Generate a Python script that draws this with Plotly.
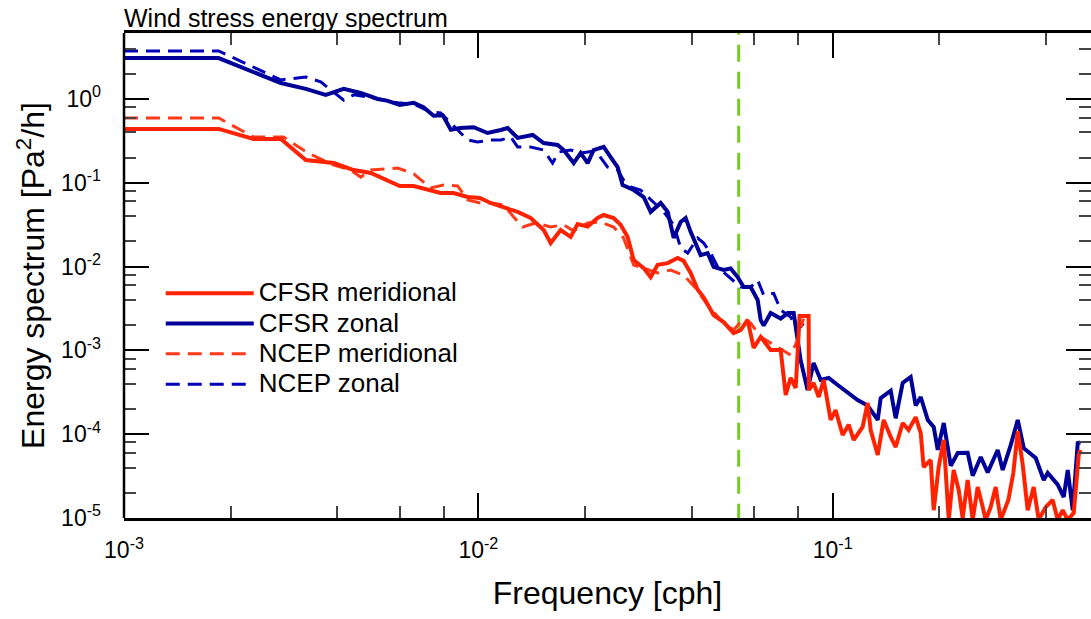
import plotly.graph_objects as go

# ---------------- data (frequency in cph, spectrum in Pa^2/h) ----------------
cfsr_zon_f = [0.001, 0.00185, 0.00277, 0.00326, 0.00371, 0.00417, 0.00466, 0.0052, 0.00555, 0.0060,
              0.00657, 0.0070, 0.00748, 0.00794, 0.00836, 0.0089, 0.0097, 0.01062, 0.01157, 0.0121,
              0.01291, 0.01423, 0.01529, 0.01674, 0.01741, 0.01858, 0.01944, 0.02035, 0.02115, 0.02258,
              0.02362, 0.02472, 0.02554, 0.02744, 0.02928, 0.03064, 0.0327, 0.03423, 0.03559, 0.03724,
              0.03847, 0.03973, 0.0424, 0.04437, 0.04613, 0.04922, 0.05152, 0.05392, 0.05608, 0.05868,
              0.06142, 0.06263, 0.06386, 0.06683, 0.07133, 0.07464, 0.07761, 0.0796, 0.08117, 0.08494,
              0.08834, 0.0925, 0.09743, 0.1033, 0.1102, 0.1176, 0.1255, 0.134, 0.1366, 0.1458,
              0.1506, 0.1576, 0.166, 0.1715, 0.1772, 0.1855, 0.1928, 0.1979, 0.2058, 0.2154,
              0.2254, 0.2404, 0.2484, 0.2617, 0.2738, 0.2922, 0.3019, 0.318, 0.3329, 0.3461,
              0.3741, 0.3941, 0.4045, 0.4316, 0.4488, 0.4606, 0.4758, 0.4915, 0.5]
cfsr_zon_s = [3.08, 3.08, 1.55, 1.32, 1.12, 1.32, 1.18, 1.0, 0.95, 0.85,
              0.90, 0.80, 0.63, 0.64, 0.43, 0.45, 0.46, 0.393, 0.427, 0.451,
              0.343, 0.372, 0.298, 0.283, 0.246, 0.172, 0.227, 0.172, 0.246, 0.268,
              0.203, 0.154, 0.094, 0.082, 0.0677, 0.045, 0.0574, 0.045, 0.022, 0.034,
              0.038, 0.026, 0.0137, 0.0145, 0.0099, 0.0091, 0.0095, 0.0075, 0.0057, 0.0057,
              0.0040, 0.0023, 0.00198, 0.00279, 0.0024, 0.00279, 0.00279, 0.00133, 0.00077, 0.000337,
              0.000708, 0.000444, 0.00047, 0.000387, 0.00032, 0.000256, 0.00022, 0.000148, 0.00027, 0.00033,
              0.000155, 0.000409, 0.000482, 0.00022, 0.000278, 0.000148, 0.000122, 0.000065, 0.000136, 0.000042,
              0.0000597, 0.00006, 0.000032, 0.0000535, 0.000035, 0.0000648, 0.0000374, 0.000074, 0.000148, 0.000068,
              0.000052, 0.0000284, 0.0000344, 0.000025, 0.0000178, 0.0000374, 0.0000124, 0.0000785, 0.00008]

cfsr_mer_f = [0.001, 0.00185, 0.00232, 0.00277, 0.00326, 0.00391, 0.00445, 0.00497, 0.0060, 0.00657,
              0.00783, 0.00851, 0.00933, 0.0101, 0.01083, 0.01179, 0.01291, 0.01405, 0.01529, 0.016,
              0.01707, 0.01822, 0.01906, 0.02035, 0.02171, 0.02258, 0.02409, 0.02521, 0.02638, 0.02744,
              0.02928, 0.03064, 0.03207, 0.03423, 0.0365, 0.03797, 0.03973, 0.0416, 0.04324, 0.04613,
              0.04922, 0.05254, 0.05498, 0.05755, 0.05984, 0.06263, 0.06683, 0.07133, 0.07368, 0.0761,
              0.07864, 0.08066, 0.08554, 0.0857, 0.08834, 0.09131, 0.09432, 0.0987, 0.1019, 0.1067,
              0.111, 0.1146, 0.1215, 0.1255, 0.128, 0.134, 0.1393, 0.1458, 0.1506, 0.1576,
              0.1638, 0.1715, 0.1772, 0.1806, 0.1891, 0.1928, 0.1991, 0.2058, 0.2126, 0.2195,
              0.2268, 0.2327, 0.2404, 0.2484, 0.2566, 0.2651, 0.2703, 0.2792, 0.2884, 0.298,
              0.3131, 0.3234, 0.3329, 0.3439, 0.3551, 0.3692, 0.3815, 0.3991, 0.4177, 0.4316,
              0.4457, 0.4606, 0.4789, 0.4947, 0.5]
cfsr_mer_s = [0.44, 0.44, 0.333, 0.333, 0.187, 0.172, 0.142, 0.131, 0.0916, 0.0916,
              0.0755, 0.0755, 0.0677, 0.066, 0.0574, 0.0514, 0.0449, 0.038, 0.0273, 0.0191,
              0.0273, 0.0226, 0.0322, 0.030, 0.038, 0.0413, 0.038, 0.0316, 0.0226, 0.012,
              0.0096, 0.0075, 0.0105, 0.0110, 0.0127, 0.0117, 0.0084, 0.0053, 0.0043, 0.00264,
              0.00218, 0.00161, 0.00175, 0.00231, 0.00107, 0.00145, 0.00101, 0.00101, 0.000294, 0.00047,
              0.000356, 0.00258, 0.00258, 0.000337, 0.000409, 0.000278, 0.000444, 0.000148, 0.000194, 0.0000977,
              0.00013, 0.0000853, 0.000122, 0.000236, 0.000112, 0.0000565, 0.000148, 0.0000927, 0.0000703, 0.000136,
              0.000112, 0.00016, 0.000103, 0.0000406, 0.0000492, 0.0000124, 0.0000406, 0.0000853, 0.0000095, 0.0000374,
              0.0000216, 0.00001, 0.0000284, 0.0000095, 0.0000234, 0.0000135, 0.0000095, 0.0000135, 0.0000234, 0.0000095,
              0.0000164, 0.0000344, 0.000108, 0.000043, 0.0000124, 0.0000234, 0.0000095, 0.0000135, 0.0000164, 0.0000095,
              0.0000124, 0.0000095, 0.0000115, 0.0000565, 0.0000648]

ncep_zon_f = [0.001, 0.00185, 0.00277, 0.00326, 0.00359, 0.00391, 0.00417, 0.00445, 0.00506, 0.00592,
              0.00657, 0.00733, 0.00783, 0.00836, 0.00933, 0.00995, 0.01083, 0.01157, 0.01234, 0.01291,
              0.01405, 0.01529, 0.0162, 0.01685, 0.01822, 0.01944, 0.02144, 0.02317, 0.02472, 0.0257,
              0.02691, 0.02871, 0.03064, 0.03334, 0.03559, 0.03724, 0.03897, 0.0416, 0.04324, 0.04527,
              0.04737, 0.05052, 0.05498, 0.05868, 0.06142, 0.06386, 0.06817, 0.07133, 0.0761, 0.0796,
              0.08276]
ncep_zon_s = [3.74, 3.74, 1.69, 1.83, 1.60, 1.21, 0.97, 1.12, 1.03, 0.90,
              0.87, 0.70, 0.68, 0.517, 0.324, 0.307, 0.324, 0.324, 0.352, 0.268,
              0.268, 0.246, 0.172, 0.233, 0.246, 0.227, 0.24, 0.154, 0.142, 0.108,
              0.0891, 0.082, 0.0624, 0.045, 0.0316, 0.0167, 0.0145, 0.0219, 0.0191, 0.0145,
              0.0099, 0.00773, 0.0057, 0.0057, 0.0069, 0.00458, 0.0048, 0.00303, 0.0025, 0.00175,
              0.0021]

ncep_mer_f = [0.001, 0.00185, 0.00232, 0.00282, 0.0033, 0.00391, 0.00436, 0.00466, 0.00497, 0.00592,
              0.00657, 0.00733, 0.00798, 0.00874, 0.00933, 0.01015, 0.01083, 0.01179, 0.01258, 0.01334,
              0.01451, 0.016, 0.01741, 0.01858, 0.02035, 0.02214, 0.02409, 0.0257, 0.02744, 0.03004,
              0.03207, 0.03489, 0.03797, 0.04104, 0.04437, 0.04829, 0.05254, 0.05608, 0.05868, 0.06263,
              0.06817, 0.0761, 0.0796, 0.08276]
ncep_mer_s = [0.593, 0.593, 0.352, 0.352, 0.227, 0.163, 0.142, 0.117, 0.142, 0.150,
              0.128, 0.0867, 0.0941, 0.0916, 0.0624, 0.0574, 0.0574, 0.0543, 0.0391, 0.0297,
              0.0331, 0.0297, 0.0316, 0.0266, 0.0331, 0.034, 0.0297, 0.0219, 0.01045, 0.0091,
              0.0084, 0.0091, 0.0079, 0.00555, 0.00348, 0.00231, 0.00175, 0.0024, 0.00212, 0.00145,
              0.00116, 0.00088, 0.00133, 0.0024]

series_names = ["CFSR meridional", "CFSR zonal", "NCEP meridional", "NCEP zonal"]

marker_freq = 0.0543          # vertical reference frequency (cph)
marker_span = [1e-6, 100.0]   # vertical extent (clipped by the axis range)

x_major = [1e-3, 1e-2, 1e-1]
x_major_text = ["10<sup>-3</sup>", "10<sup>-2</sup>", "10<sup>-1</sup>"]
x_minor = [2e-3, 4e-3, 6e-3, 8e-3, 2e-2, 4e-2, 6e-2, 8e-2, 2e-1, 4e-1]
y_major = [1e-5, 1e-4, 1e-3, 1e-2, 1e-1, 1e0]
y_major_text = ["10<sup>-5</sup>", "10<sup>-4</sup>", "10<sup>-3</sup>",
                "10<sup>-2</sup>", "10<sup>-1</sup>", "10<sup>0</sup>"]
y_minor = [m * d for d in [1e-5, 1e-4, 1e-3, 1e-2, 1e-1, 1e0] for m in (2, 4, 6, 8)]

# ---------------- figure ----------------
RED = "#FF2200"
RED_D = "#FF3A1A"
BLUE = "#000099"
BLUE_D = "#0000BB"
FONT = "Liberation Sans, Arial, Helvetica, sans-serif"


def legend_label(text):
    # larger glyphs than the legend's base font, keeping the tight row spacing
    return '<span style="font-size:26px">' + text + "</span>"


fig = go.Figure()
fig.add_trace(go.Scatter(x=[marker_freq, marker_freq], y=marker_span, mode="lines",
                         line=dict(color="#77CC22", width=3, dash="17px,10px"),
                         showlegend=False, hoverinfo="skip"))
fig.add_trace(go.Scatter(x=ncep_zon_f, y=ncep_zon_s, mode="lines", name=legend_label(series_names[3]),
                         line=dict(color=BLUE_D, width=3, dash="14px,8px"), legendrank=4))
fig.add_trace(go.Scatter(x=cfsr_zon_f, y=cfsr_zon_s, mode="lines", name=legend_label(series_names[1]),
                         line=dict(color=BLUE, width=4), legendrank=2))
fig.add_trace(go.Scatter(x=ncep_mer_f, y=ncep_mer_s, mode="lines", name=legend_label(series_names[2]),
                         line=dict(color=RED_D, width=3, dash="14px,8px"), legendrank=3))
fig.add_trace(go.Scatter(x=cfsr_mer_f, y=cfsr_mer_s, mode="lines", name=legend_label(series_names[0]),
                         line=dict(color=RED, width=4), legendrank=1))

axis_common = dict(
    type="log", showgrid=False, zeroline=False,
    linecolor="black", linewidth=2.5,
    ticks="inside", ticklen=25, tickwidth=2, tickcolor="black",
    tickfont=dict(family=FONT, size=23, color="black"),
    minor=dict(ticks="inside", ticklen=12, tickwidth=1.5, tickcolor="#444444", showgrid=False),
)

fig.update_layout(
    width=1091, height=619,
    margin=dict(l=124, r=0, t=33, b=101),
    paper_bgcolor="white", plot_bgcolor="white",
    font=dict(family=FONT, color="black"),
    title=dict(text="Wind stress energy spectrum", x=124 / 1091, xanchor="left",
               y=1 - 18 / 619, yanchor="middle", font=dict(size=25, family=FONT, color="black")),
    legend=dict(x=0.038, y=0.505, xanchor="left", yanchor="top", bgcolor="rgba(0,0,0,0)",
                font=dict(size=21, family=FONT, color="black"), tracegroupgap=0,
                itemwidth=88),
    xaxis=dict(axis_common, showline=True, mirror="ticks",
               range=[-3, -0.271], tickvals=x_major, ticktext=x_major_text,
               ticklabelstandoff=10,
               minor=dict(axis_common["minor"], tickvals=x_minor),
               title=dict(text="Frequency [cph]", font=dict(size=32, family=FONT), standoff=20)),
    yaxis=dict(axis_common, showline=False, mirror="ticks",
               range=[-5, 0.7876], tickvals=y_major, ticktext=y_major_text,
               ticklabelstandoff=22,
               minor=dict(axis_common["minor"], tickvals=y_minor),
               title=dict(text="Energy spectrum [Pa<sup>2</sup>/h]", font=dict(size=32, family=FONT),
                          standoff=6)),
    shapes=[dict(type="line", xref="paper", yref="paper", x0=0, x1=0, y0=0, y1=1,
                 line=dict(color="black", width=2.5), layer="above")],
)

fig.write_html("out.html")
